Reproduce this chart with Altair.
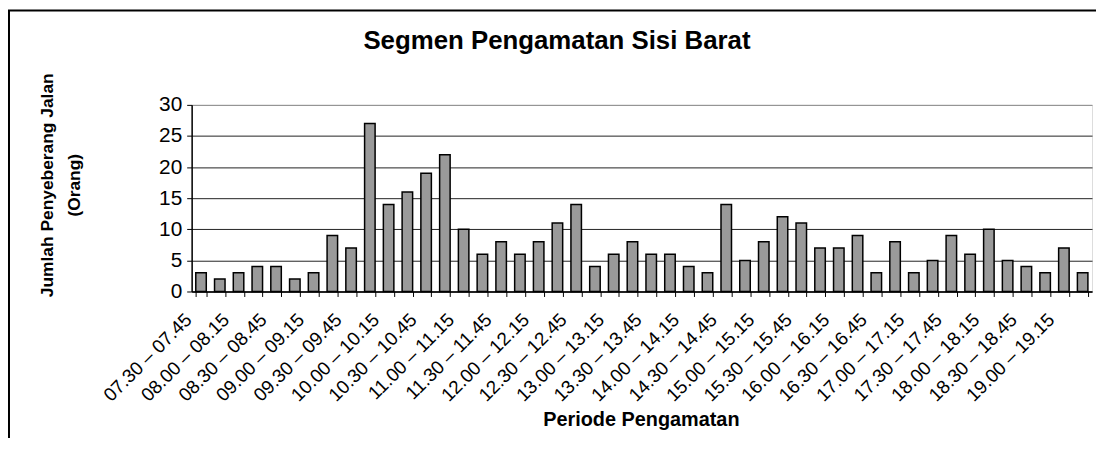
import json
import altair as alt
import pandas as pd

periods = [
    "07.30 – 07.45", "07.45 – 08.00", "08.00 – 08.15", "08.15 – 08.30",
    "08.30 – 08.45", "08.45 – 09.00", "09.00 – 09.15", "09.15 – 09.30",
    "09.30 – 09.45", "09.45 – 10.00", "10.00 – 10.15", "10.15 – 10.30",
    "10.30 – 10.45", "10.45 – 11.00", "11.00 – 11.15", "11.15 – 11.30",
    "11.30 – 11.45", "11.45 – 12.00", "12.00 – 12.15", "12.15 – 12.30",
    "12.30 – 12.45", "12.45 – 13.00", "13.00 – 13.15", "13.15 – 13.30",
    "13.30 – 13.45", "13.45 – 14.00", "14.00 – 14.15", "14.15 – 14.30",
    "14.30 – 14.45", "14.45 – 15.00", "15.00 – 15.15", "15.15 – 15.30",
    "15.30 – 15.45", "15.45 – 16.00", "16.00 – 16.15", "16.15 – 16.30",
    "16.30 – 16.45", "16.45 – 17.00", "17.00 – 17.15", "17.15 – 17.30",
    "17.30 – 17.45", "17.45 – 18.00", "18.00 – 18.15", "18.15 – 18.30",
    "18.30 – 18.45", "18.45 – 19.00", "19.00 – 19.15", "19.15 – 19.30",
]

counts = [3, 2, 3, 4, 4, 2, 3, 9, 7, 27, 14, 16, 19, 22, 10, 6,
          8, 6, 8, 11, 14, 4, 6, 8, 6, 6, 4, 3, 14, 5, 8, 12,
          11, 7, 7, 9, 3, 8, 3, 5, 9, 6, 10, 5, 4, 3, 7, 3]

shown_labels = [
    "07.30 – 07.45", "08.00 – 08.15", "08.30 – 08.45", "09.00 – 09.15",
    "09.30 – 09.45", "10.00 – 10.15", "10.30 – 10.45", "11.00 – 11.15",
    "11.30 – 11.45", "12.00 – 12.15", "12.30 – 12.45", "13.00 – 13.15",
    "13.30 – 13.45", "14.00 – 14.15", "14.30 – 14.45", "15.00 – 15.15",
    "15.30 – 15.45", "16.00 – 16.15", "16.30 – 16.45", "17.00 – 17.15",
    "17.30 – 17.45", "18.00 – 18.15", "18.30 – 18.45", "19.00 – 19.15",
]

y_ticks = [0, 5, 10, 15, 20, 25, 30]

chart_title = "Segmen Pengamatan Sisi Barat"
y_title_lines = ["Jumlah Penyeberang Jalan", "(Orang)"]
x_title = "Periode Pengamatan"

FONT = "Liberation Sans"

df = pd.DataFrame({"period": periods, "count": counts})

label_expr = "indexof(%s, datum.value) >= 0 ? datum.value : ''" % json.dumps(shown_labels, ensure_ascii=False)

bars = alt.Chart(df).mark_bar(
    fill="#9a9a9a", stroke="#000000", strokeWidth=1.5
).encode(
    x=alt.X(
        "period:N", sort=periods,
        scale=alt.Scale(paddingInner=0.44, paddingOuter=0.22),
        axis=alt.Axis(
            title=None, labelExpr=label_expr, labelAngle=-45,
            labelAlign="right", labelBaseline="middle",
            labelFont=FONT, labelFontSize=19, labelColor="#000",
            labelPadding=20, labelOffset=-13, labelOverlap=False,
            labelBound=False, labelFlush=False,
            tickBand="extent", tickSize=5, tickColor="#000", tickWidth=1,
            domainColor="#000", domainWidth=1.5, grid=False,
        ),
    ),
    y=alt.Y(
        "count:Q",
        scale=alt.Scale(domain=[0, 30], nice=False),
        axis=alt.Axis(
            title=None, values=y_ticks, labelFont=FONT, labelFontSize=21,
            labelColor="#000", labelPadding=5, tickSize=5, tickColor="#000",
            domainColor="#000", domainWidth=1.5,
            gridColor={"condition": {"test": "datum.value == 30", "value": "#888888"}, "value": "#222222"},
            gridWidth=1,
        ),
    ),
)

border = alt.Chart(alt.Data(values=[{"k": 1}])).mark_rect(
    filled=False, stroke="#000000", strokeWidth=2
).encode(
    x=alt.value(-184), x2=alt.value(940), y=alt.value(-95), y2=alt.value(400)
)

title_layer = alt.Chart(alt.Data(values=[{"t": chart_title}])).mark_text(
    font=FONT, fontSize=26, fontWeight="bold", align="center",
    baseline="alphabetic", color="#000"
).encode(text="t:N", x=alt.value(368), y=alt.value(-56))

ytitle1 = alt.Chart(alt.Data(values=[{"t": y_title_lines[0]}])).mark_text(
    font=FONT, fontSize=17.5, fontWeight="bold", align="center",
    baseline="alphabetic", angle=270, color="#000"
).encode(text="t:N", x=alt.value(-140), y=alt.value(81))

ytitle2 = alt.Chart(alt.Data(values=[{"t": y_title_lines[1]}])).mark_text(
    font=FONT, fontSize=17.5, fontWeight="bold", align="center",
    baseline="alphabetic", angle=270, color="#000"
).encode(text="t:N", x=alt.value(-112), y=alt.value(81))

xtitle = alt.Chart(alt.Data(values=[{"t": x_title}])).mark_text(
    font=FONT, fontSize=20, fontWeight="bold", align="center",
    baseline="alphabetic", color="#000"
).encode(text="t:N", x=alt.value(453), y=alt.value(323))

chart = alt.layer(bars, border, title_layer, ytitle1, ytitle2, xtitle).properties(
    width=907, height=188,
    autosize=alt.AutoSizeParams(type="none"),
    padding={"left": 185, "top": 96, "right": 4, "bottom": 146},
    background="#ffffff",
).configure_view(
    stroke="#888888", strokeWidth=2
).configure(font=FONT)

chart.save("out.html", embed_options={"renderer": "svg", "actions": False})
